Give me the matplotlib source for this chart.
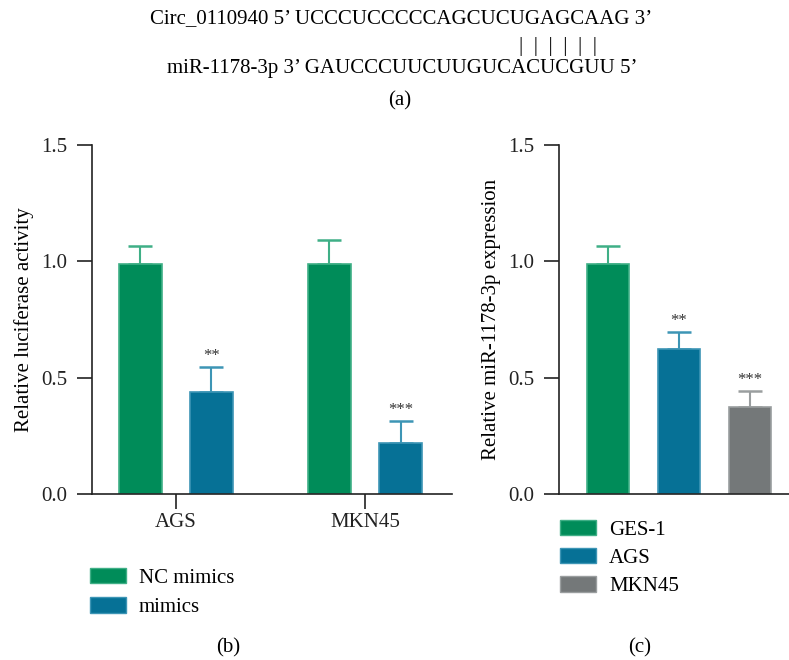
import matplotlib
matplotlib.use('Agg')
import matplotlib.pyplot as plt
from matplotlib.patches import Patch
import numpy as np

plt.rcParams['font.family'] = ['Liberation Serif', 'DejaVu Serif']
plt.rcParams['font.size'] = 15

# ---- data ----
seq_circ = "Circ_0110940 5\u2019 UCCCUCCCCCAGCUCUGAGCAAG 3\u2019"
seq_mir = "miR-1178-3p 3\u2019 GAUCCCUUCUUGUCACUCGUU 5\u2019"

cells_b = ["AGS", "MKN45"]
nc_mean = [0.99, 0.99]
nc_err = [0.075, 0.10]
mim_mean = [0.44, 0.22]
mim_err = [0.105, 0.095]
mim_sig = ["**", "***"]

cells_c = ["GES-1", "AGS", "MKN45"]
expr_mean = [0.99, 0.625, 0.372]
expr_err = [0.075, 0.073, 0.072]
expr_sig = ["", "**", "***"]

GREEN = "#008C59"
BLUE = "#067196"
GRAY = "#747879"
EDGE = {GREEN: "#3FAF86", BLUE: "#3D95B5", GRAY: "#9A9E9F"}

fig = plt.figure(figsize=(7.89, 6.60), dpi=100)

# ---- (a) sequence pairing ----
fig.text(401/789, 1 - 19/660, seq_circ, ha='center', va='center', fontsize=15)
fig.text(558/789, 1 - 46/660, "|  |  |  |  |  |", ha='center', va='center', fontsize=15)
fig.text(402/789, 1 - 68/660, seq_mir, ha='center', va='center', fontsize=15)
fig.text(400/789, 1 - 101/660, "(a)", ha='center', va='center', fontsize=15)


def style_axes(ax):
    for s in ['top', 'right']:
        ax.spines[s].set_visible(False)
    for s in ['left', 'bottom']:
        ax.spines[s].set_linewidth(1.2)
        ax.spines[s].set_color('#222222')
    ax.set_ylim(0, 1.5)
    ax.set_yticks([0, 0.5, 1.0, 1.5])
    ax.set_yticklabels(["0.0", "0.5", "1.0", "1.5"])
    ax.tick_params(axis='y', length=11, width=1.2, pad=7, colors='#222222')
    ax.tick_params(axis='x', length=11, width=1.2, pad=3, colors='#222222')


def draw_bar(ax, x, h, e, color, w, sig):
    ax.bar(x, h, width=w, color=color, edgecolor=EDGE[color], linewidth=1.2, zorder=2)
    ax.errorbar(x, h, yerr=[[0], [e]], fmt='none', ecolor=EDGE[color],
                elinewidth=1.5, capsize=8.3, capthick=1.8, zorder=1)
    if sig:
        ax.text(x, h + e + 0.012, sig, ha='center', va='bottom', fontsize=12, color='#333333')


# ---- (b) luciferase ----
axb = fig.add_axes([92/789, 1 - 494/660, 360/789, 349/660])
style_axes(axb)
xb = np.arange(len(cells_b))
wb = 0.2275
off = 0.188
for i in range(len(cells_b)):
    draw_bar(axb, xb[i] - off, nc_mean[i], nc_err[i], GREEN, wb, "")
    draw_bar(axb, xb[i] + off, mim_mean[i], mim_err[i], BLUE, wb, mim_sig[i])
axb.set_xlim(-0.444, 1.46)
axb.set_xticks(xb)
axb.set_xticklabels(cells_b)
axb.set_ylabel("Relative luciferase activity", labelpad=5)

# ---- (c) miR-1178-3p expression ----
axc = fig.add_axes([559/789, 1 - 494/660, 232/789, 349/660])
style_axes(axc)
xc = np.arange(len(cells_c))
cols_c = [GREEN, BLUE, GRAY]
for i in range(len(cells_c)):
    draw_bar(axc, xc[i], expr_mean[i], expr_err[i], cols_c[i], 0.59, expr_sig[i])
axc.set_xlim(-0.69, 2.58)
axc.set_xticks([])
axc.set_ylabel("Relative miR-1178-3p expression", labelpad=5)

# ---- legends ----
hb = [Patch(facecolor=GREEN, edgecolor=EDGE[GREEN]), Patch(facecolor=BLUE, edgecolor=EDGE[BLUE])]
fig.legend(hb, ["NC mimics", "mimics"], loc='upper left',
           bbox_to_anchor=(90/789, 1 - 568/660), frameon=False, fontsize=15,
           handlelength=1.75, handleheight=0.75, handletextpad=0.6,
           labelspacing=0.45, borderpad=0, borderaxespad=0)
hc = [Patch(facecolor=c, edgecolor=EDGE[c]) for c in cols_c]
fig.legend(hc, cells_c, loc='upper left',
           bbox_to_anchor=(560/789, 1 - 520/660), frameon=False, fontsize=15,
           handlelength=1.75, handleheight=0.75, handletextpad=0.6,
           labelspacing=0.4, borderpad=0, borderaxespad=0)

fig.text(228/789, 1 - 648/660, "(b)", ha='center', va='center', fontsize=15)
fig.text(640/789, 1 - 648/660, "(c)", ha='center', va='center', fontsize=15)

fig.savefig("out.png", dpi=100)
